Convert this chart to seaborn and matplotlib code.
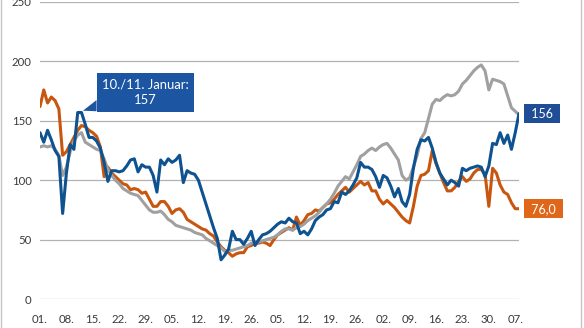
import matplotlib
matplotlib.use("Agg")
import matplotlib.pyplot as plt
from matplotlib.lines import Line2D
from matplotlib.patches import Polygon, Rectangle
import seaborn as sns
import numpy as np
import pandas as pd

# ---------------- data ----------------
blue = [140, 132, 142, 134, 125, 120, 72, 106, 130, 126,
        157, 157, 147, 136, 136, 133, 127, 115, 99, 108,
        108, 107, 108, 112, 117, 118, 107, 113, 111, 111,
        104, 90, 117, 113, 118, 115, 117, 121, 98, 108,
        106, 105, 100, 90, 80, 70, 60, 51, 33, 37,
        42, 57, 50, 50, 46, 51, 57, 45, 50, 54,
        55, 57, 60, 63, 65, 64, 68, 65, 64, 55,
        57, 54, 59, 66, 69, 71, 75, 76, 82, 81,
        90, 88, 91, 96, 102, 115, 111, 111, 109, 103,
        94, 104, 102, 95, 86, 93, 82, 78, 88, 110,
        126, 134, 133, 136, 127, 115, 106, 101, 96, 100,
        98, 95, 110, 108, 110, 111, 112, 111, 103, 112,
        131, 130, 140, 131, 138, 126, 140, 156]

orange = [162, 176, 165, 170, 167, 160, 121, 124, 130, 136,
          142, 146, 145, 142, 140, 137, 128, 103, 111, 106,
          103, 100, 97, 96, 92, 93, 92, 89, 90, 84,
          78, 78, 82, 82, 78, 72, 75, 76, 73, 67,
          65, 63, 61, 59, 58, 55, 53, 48, 44, 41,
          39, 36, 38, 39, 39, 44, 45, 47, 47, 48,
          47, 45, 50, 54, 56, 58, 60, 58, 69, 62,
          66, 71, 72, 75, 74, 77, 80, 81, 84, 88,
          91, 94, 90, 93, 96, 99, 96, 98, 91, 91,
          84, 80, 83, 80, 77, 73, 69, 66, 64, 78,
          95, 104, 105, 108, 125, 114, 106, 98, 91, 91,
          94, 99, 103, 99, 101, 106, 109, 109, 105, 78,
          110, 106, 96, 90, 88, 81, 76, 76.0]

gray = [128, 129, 128, 129, 126, 121, 104, 111, 124, 133,
        138, 140, 132, 130, 128, 126, 125, 118, 109, 104,
        100, 97, 93, 91, 89, 88, 87, 83, 79, 75,
        73, 73, 74, 71, 67, 65, 62, 61, 60, 59,
        58, 56, 55, 54, 51, 49, 47, 45, 43, 40,
        41, 41, 42, 43, 44, 45, 47, 48, 48, 49,
        50, 51, 52, 54, 57, 59, 59, 58, 60, 61,
        63, 66, 68, 70, 73, 77, 80, 84, 89, 95,
        99, 103, 101, 107, 113, 120, 122, 125, 127, 125,
        128, 130, 131, 127, 122, 117, 104, 100, 102, 111,
        121, 135, 140, 152, 164, 168, 167, 170, 172, 171,
        172, 175, 181, 184, 188, 192, 195, 197, 192, 176,
        185, 184, 183, 181, 171, 161, 158, 155]

day_labels = ["01.", "08.", "15.", "22.", "29.", "05.", "12.", "19.", "26.",
              "05.", "12.", "19.", "26.", "02.", "09.", "16.", "23.", "30.", "07."]
month_labels = ["Jan"] * 5 + ["Feb"] * 4 + ["Mär"] * 4 + ["Apr"] * 5 + ["Mai"]
y_ticks = [0, 50, 100, 150, 200, 250]
callout_text = "10./11. Januar:\n157"

# ---------------- styling ----------------
sns.set_theme(style="white")
plt.rcParams["font.family"] = ["Lato", "DejaVu Sans"]

C_BLUE = "#0f5290"
C_ORANGE = "#c8560f"
C_GRAY = "#a0a0a0"
C_BLUE_BOX = "#1c55a2"
C_BLUE_END = "#1f4e96"
C_ORANGE_END = "#e0661a"
TXT = "#3a3a3a"

W, H = 584, 328
fig = plt.figure(figsize=(W / 100, H / 100), dpi=100)
ax = fig.add_axes([40 / W, 1 - 299 / H, (519 - 40) / W, (299 - 2) / H])

n = len(blue)
idx = np.arange(n)
df = pd.DataFrame({"idx": idx, "blue": blue, "orange": orange, "gray": gray})

sns.lineplot(data=df, x="idx", y="orange", ax=ax, color=C_ORANGE, lw=2.2, zorder=3)
sns.lineplot(data=df, x="idx", y="gray", ax=ax, color=C_GRAY, lw=2.2, zorder=4)
sns.lineplot(data=df, x="idx", y="blue", ax=ax, color=C_BLUE, lw=2.2, zorder=5)

ax.set_xlim(0, n - 1)
ax.set_ylim(0, 250)
ax.set_yticks(y_ticks)
ax.set_yticklabels([str(v) for v in y_ticks])
tick_pos = list(range(0, n, 7))[:len(day_labels)]
ax.set_xticks(tick_pos)
ax.set_xticklabels([f"{d}\n{m}" for d, m in zip(day_labels, month_labels)],
                   linespacing=1.25)
ax.set_xlabel("")
ax.set_ylabel("")
for s in ax.spines.values():
    s.set_visible(False)
ax.grid(axis="y", color="#b2b2b2", lw=0.9)
ax.grid(axis="x", visible=False)
ax.tick_params(axis="y", length=0, pad=6, labelsize=8.2, labelcolor=TXT)
ax.tick_params(axis="x", length=0, pad=11, labelsize=8.2, labelcolor=TXT)
for lab in ax.get_xticklabels():
    lab.set_verticalalignment("top")

# ---------------- callout for the January peak ----------------
first = np.array(blue[:20])
pk = int(np.where(first == first.max())[0][-1])
pv = blue[pk]
bx0, bx1, by0, by1 = 15.0, 40.9, 157.7, 190.5
ax.add_patch(Rectangle((bx0, by0), bx1 - bx0, by1 - by0, fc=C_BLUE_BOX,
                       ec="none", zorder=7))
ax.add_patch(Polygon([(bx0, 167.5), (pk + 0.4, pv + 1.5), (bx0 + 2.5, by0), (bx0, by0)],
                     closed=True, fc=C_BLUE_BOX, ec="none", zorder=7))
ax.text((bx0 + bx1) / 2, (by0 + by1) / 2, callout_text, ha="center", va="center",
        color="white", fontsize=9.4, linespacing=1.3, zorder=8)

# ---------------- end labels ----------------
ax.annotate(f" {blue[-1]:.0f} ", xy=(n - 1, blue[-1]), xytext=(9, 0),
            textcoords="offset pixels", ha="left", va="center", color="white",
            fontsize=9, annotation_clip=False, zorder=8,
            bbox=dict(boxstyle="square,pad=0.3", fc=C_BLUE_END, ec="none"))
ax.annotate(" " + f"{orange[-1]:.1f}".replace(".", ",") + " ", xy=(n - 1, orange[-1]),
            xytext=(9, 0), textcoords="offset pixels", ha="left", va="center",
            color="white", fontsize=9, annotation_clip=False, zorder=8,
            bbox=dict(boxstyle="square,pad=0.3", fc=C_ORANGE_END, ec="none"))

# chart-area frame edges visible in the crop
for xf in (1 / W, 580.5 / W):
    fig.add_artist(Line2D([xf, xf], [0, 1], transform=fig.transFigure,
                          color="#c4c4c4", lw=1.0))

fig.savefig("out.png", dpi=100, facecolor="white")
